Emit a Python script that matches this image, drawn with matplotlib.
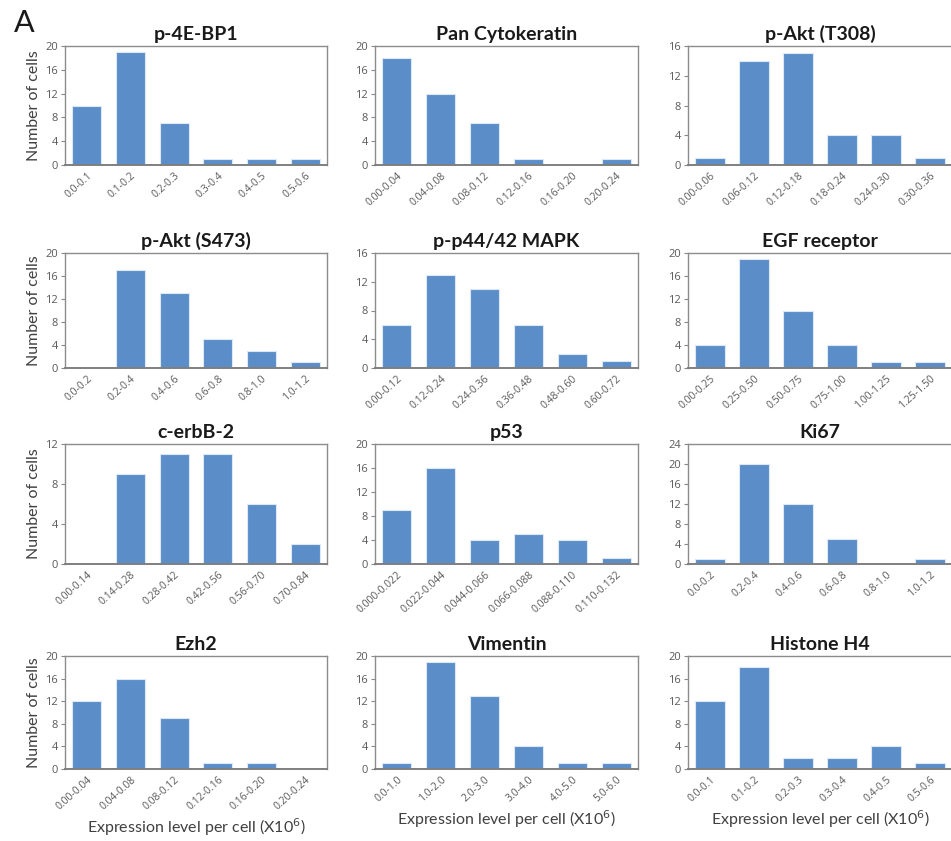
import matplotlib
matplotlib.use("Agg")
import matplotlib.pyplot as plt

# ---------------------------------------------------------
# data (number of cells per expression bin)
# ---------------------------------------------------------

titles = [
    "p-4E-BP1", "Pan Cytokeratin", "p-Akt (T308)",
    "p-Akt (S473)", "p-p44/42 MAPK", "EGF receptor",
    "c-erbB-2", "p53", "Ki67",
    "Ezh2", "Vimentin", "Histone H4",
]

bins_4ebp1 = ["0.0-0.1", "0.1-0.2", "0.2-0.3", "0.3-0.4", "0.4-0.5", "0.5-0.6"]
bins_panck = ["0.00-0.04", "0.04-0.08", "0.08-0.12", "0.12-0.16", "0.16-0.20", "0.20-0.24"]
bins_t308 = ["0.00-0.06", "0.06-0.12", "0.12-0.18", "0.18-0.24", "0.24-0.30", "0.30-0.36"]
bins_s473 = ["0.0-0.2", "0.2-0.4", "0.4-0.6", "0.6-0.8", "0.8-1.0", "1.0-1.2"]
bins_mapk = ["0.00-0.12", "0.12-0.24", "0.24-0.36", "0.36-0.48", "0.48-0.60", "0.60-0.72"]
bins_egfr = ["0.00-0.25", "0.25-0.50", "0.50-0.75", "0.75-1.00", "1.00-1.25", "1.25-1.50"]
bins_erbb2 = ["0.00-0.14", "0.14-0.28", "0.28-0.42", "0.42-0.56", "0.56-0.70", "0.70-0.84"]
bins_p53 = ["0.000-0.022", "0.022-0.044", "0.044-0.066", "0.066-0.088", "0.088-0.110", "0.110-0.132"]
bins_ki67 = ["0.0-0.2", "0.2-0.4", "0.4-0.6", "0.6-0.8", "0.8-1.0", "1.0-1.2"]
bins_ezh2 = ["0.00-0.04", "0.04-0.08", "0.08-0.12", "0.12-0.16", "0.16-0.20", "0.20-0.24"]
bins_vim = ["0.0-1.0", "1.0-2.0", "2.0-3.0", "3.0-4.0", "4.0-5.0", "5.0-6.0"]
bins_h4 = ["0.0-0.1", "0.1-0.2", "0.2-0.3", "0.3-0.4", "0.4-0.5", "0.5-0.6"]

counts_4ebp1 = [10, 19, 7, 1, 1, 1]
counts_panck = [18, 12, 7, 1, 0, 1]
counts_t308 = [1, 14, 15, 4, 4, 1]
counts_s473 = [0, 17, 13, 5, 3, 1]
counts_mapk = [6, 13, 11, 6, 2, 1]
counts_egfr = [4, 19, 10, 4, 1, 1]
counts_erbb2 = [0, 9, 11, 11, 6, 2]
counts_p53 = [9, 16, 4, 5, 4, 1]
counts_ki67 = [1, 20, 12, 5, 0, 1]
counts_ezh2 = [12, 16, 9, 1, 1, 0]
counts_vim = [1, 19, 13, 4, 1, 1]
counts_h4 = [12, 18, 2, 2, 4, 1]

y_max = [20, 20, 16, 20, 16, 20, 12, 20, 24, 20, 20, 20]

all_bins = [bins_4ebp1, bins_panck, bins_t308, bins_s473, bins_mapk, bins_egfr,
            bins_erbb2, bins_p53, bins_ki67, bins_ezh2, bins_vim, bins_h4]
all_counts = [counts_4ebp1, counts_panck, counts_t308, counts_s473, counts_mapk, counts_egfr,
              counts_erbb2, counts_p53, counts_ki67, counts_ezh2, counts_vim, counts_h4]

# ---------------------------------------------------------
# layout (pixels in a 951 x 841 image)
# ---------------------------------------------------------

W, H = 951, 841
col_left = [65, 375, 688]
col_width = [262, 263, 264]
row_top = [46, 253, 444, 656]
row_bottom = [165, 368, 564, 769]

bar_color = "#5b8ec9"
grey = "#595959"

plt.rcParams["font.family"] = ["Lato", "DejaVu Sans"]

fig = plt.figure(figsize=(W / 100, H / 100), dpi=100)

for i in range(12):
    r, c = divmod(i, 3)
    left = col_left[c] / W
    bottom = 1 - row_bottom[r] / H
    width = col_width[c] / W
    height = (row_bottom[r] - row_top[r]) / H
    ax = fig.add_axes([left, bottom, width, height])

    x = range(len(all_counts[i]))
    ax.bar(x, all_counts[i], width=0.66, color=bar_color,
           edgecolor="#dde8f5", linewidth=0.8)

    ax.set_xlim(-0.5, 5.5)
    ax.set_ylim(0, y_max[i])
    ax.set_yticks(range(0, y_max[i] + 1, 4))
    ax.set_xticks(list(x))
    ax.set_xticklabels(all_bins[i], rotation=42, ha="right",
                       rotation_mode="anchor", fontsize=7.5, color=grey,
                       family=["Open Sans", "DejaVu Sans"])
    ax.tick_params(axis="x", length=0, pad=4)
    ax.tick_params(axis="y", length=3, width=0.8, color="#888888",
                   labelsize=8, labelcolor=grey, pad=2)
    for lab in ax.get_yticklabels():
        lab.set_family(["Open Sans", "DejaVu Sans"])

    for s in ax.spines.values():
        s.set_color("#8c8c8c")
        s.set_linewidth(1.0)
    ax.spines["bottom"].set_color("#7f7f7f")
    ax.spines["bottom"].set_linewidth(1.4)

    ax.set_title(titles[i], fontsize=14, fontweight="bold", pad=4, color="#1a1a1a")

    if c == 0:
        ax.set_ylabel("Number of cells", fontsize=11.5, color="#404040", labelpad=3)
    if r == 3:
        ax.set_xlabel("Expression level per cell (X10$^6$)", fontsize=11.5,
                      color="#404040", labelpad=3)

fig.text(14 / W, 1 - 32 / H, "A", fontsize=22, color="#1a1a1a")

fig.savefig("out.png", dpi=100)
